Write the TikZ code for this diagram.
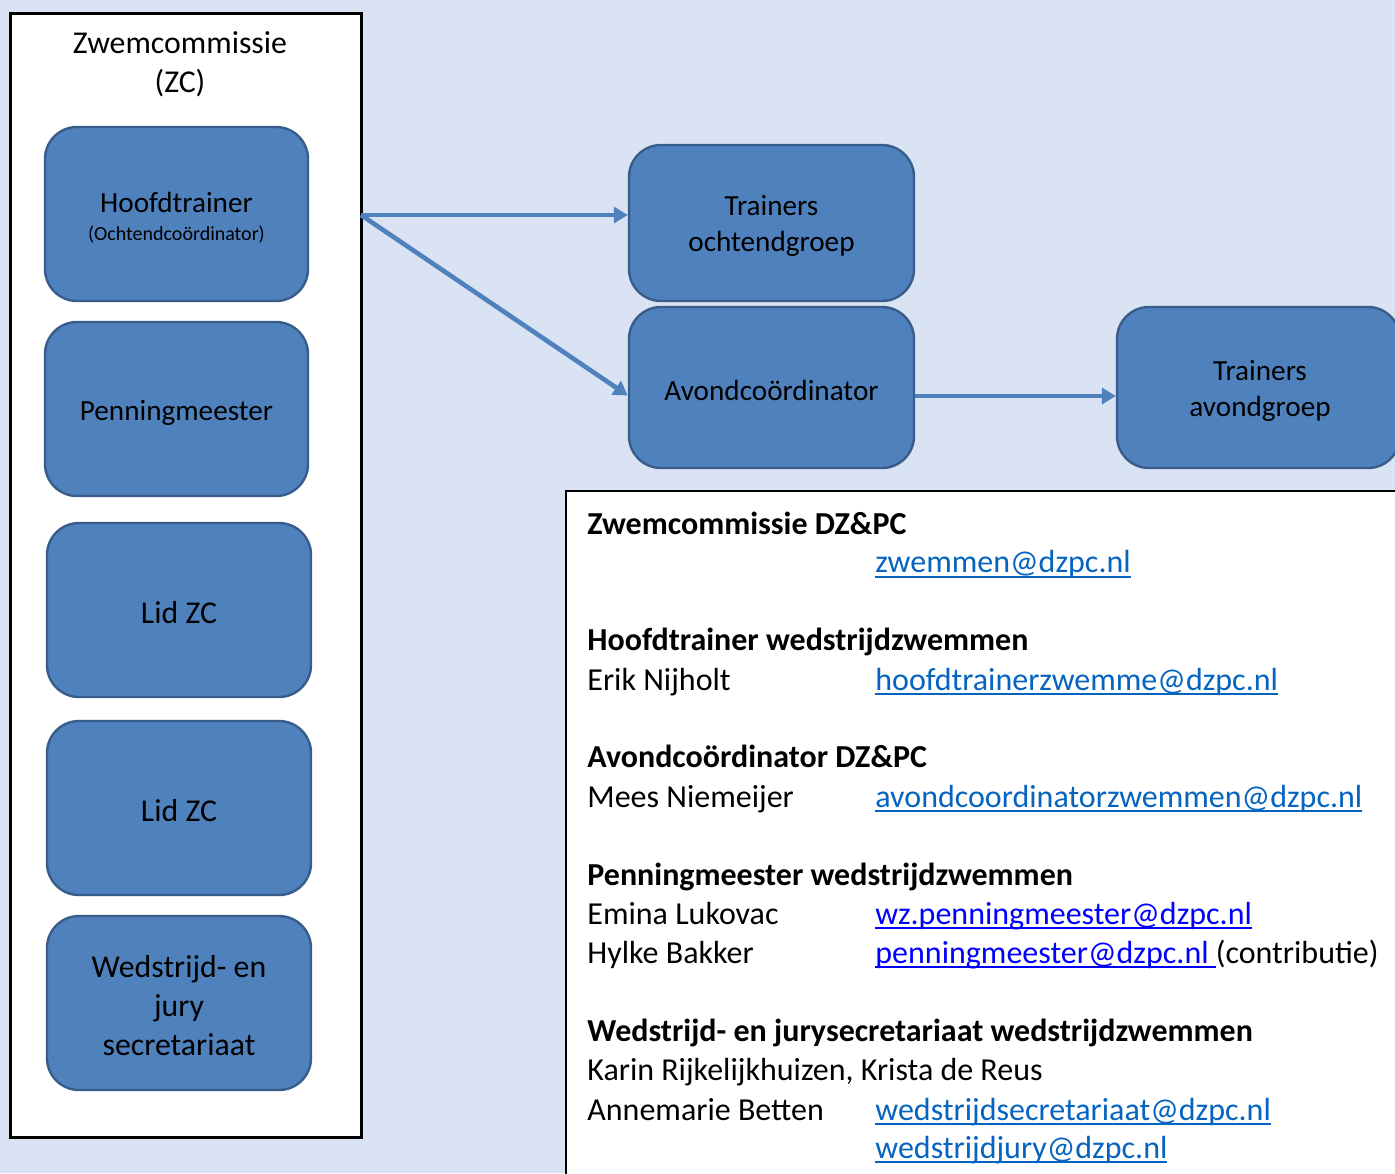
\documentclass[tikz,border=0pt]{standalone}
\usepackage{fontspec}
\setmainfont{Carlito}
\usetikzlibrary{arrows.meta,calc}
\definecolor{bg}{HTML}{DAE3F3}
\definecolor{boxfill}{HTML}{4F81BD}
\definecolor{boxline}{HTML}{385D8A}
\definecolor{linkc}{HTML}{0563C1}
\definecolor{linkb}{HTML}{0000FF}
\newcommand\ulink[2]{{\color{#1}\setbox0\hbox{#2}\rlap{\rule[-0.17em]{\wd0}{0.065em}}\box0}}
\begin{document}
\begin{tikzpicture}[x=0.5pt,y=-0.5pt,
  orgbox/.style={draw=boxline, line width=1.2pt, fill=boxfill, rounded corners=16pt, inner sep=0pt},
  boxtext/.style={inner sep=0pt, align=center, font=\fontsize{14.6}{18}\selectfont},
  bigtext/.style={boxtext, font=\fontsize{15.9}{19.5}\selectfont},
  conn/.style={draw=boxfill, line width=2.3pt, -{Triangle[length=7pt,width=8pt]}},
  info/.style={anchor=base west, inner sep=0pt, font=\fontsize{16}{19.5}\selectfont},
  infohead/.style={info, font=\fontsize{16}{19.5}\selectfont\bfseries}]
\fill[bg] (0,0) rectangle (1395,1173);
\useasboundingbox (0,0) rectangle (1395,1173);
% left frame
\node[draw=black, line width=1.5pt, fill=white, minimum width=175.5pt, minimum height=562pt, inner sep=0pt] (zc) at (185.5,575) {};
\node[align=center, inner sep=0pt, font=\fontsize{15.9}{19.5}\selectfont] (zctitle) at (180,64.5) {Zwemcommissie\\(ZC)};
% info frame
\node[draw=black, line width=1pt, fill=white, minimum width=419.5pt, minimum height=347pt, inner sep=0pt] (infobox) at (985.5,838) {};
% boxes
\node[orgbox, minimum width=131.5pt, minimum height=87pt] (HT) at (176.5,214) {};
\node[orgbox, minimum width=131.5pt, minimum height=87pt] (PM) at (176.5,409) {};
\node[orgbox, minimum width=132pt, minimum height=87pt] (L1) at (179,610) {};
\node[orgbox, minimum width=132pt, minimum height=87pt] (L2) at (179,808) {};
\node[orgbox, minimum width=132pt, minimum height=87pt] (WJ) at (179,1003) {};
\node[orgbox, minimum width=142.5pt, minimum height=78pt] (TO) at (771.5,223) {};
\node[orgbox, minimum width=142.5pt, minimum height=80.5pt] (AC) at (771.5,387.5) {};
\node[orgbox, minimum width=141.5pt, minimum height=80.5pt] (TA) at (1258.5,387.5) {};
% box texts
\node[boxtext] (HTt) at ($(HT.center)+(0,4)$) {Hoofdtrainer\\[-4pt]{\fontsize{10}{12}\selectfont(Ochtendcoördinator)}};
\node[boxtext] (PMt) at ($(PM.center)+(0,3.5)$) {Penningmeester};
\node[bigtext] (L1t) at ($(L1.center)+(0,3)$) {Lid ZC};
\node[bigtext] (L2t) at ($(L2.center)+(0,3)$) {Lid ZC};
\node[bigtext] (WJt) at ($(WJ.center)+(0,3)$) {Wedstrijd- en\\jury\\secretariaat};
\node[boxtext] (TOt) at ($(TO.center)+(0,3)$) {Trainers\\ochtendgroep};
\node[boxtext] (ACt) at ($(AC.center)+(0,2.5)$) {Avondcoördinator};
\node[boxtext] (TAt) at ($(TA.center)+(1.5,3.5)$) {Trainers\\avondgroep};
% connectors
\coordinate (zcout) at (361,215);
\draw[conn] (zcout) -- (zcout -| TO.west);
\draw[conn] (zcout) -- ($(AC.west)+(0,8)$);
\draw[conn] ($(AC.east)+(0,8.5)$) -- ($(TA.west)+(0,8.5)$);
% info text
\node[infohead] (h1) at (587,534.5) {Zwemcommissie DZ\&PC};
\node[info] (m1) at (875,572.5) {\ulink{linkc}{zwemmen@dzpc.nl}};
\node[infohead] (h2) at (587,650.5) {Hoofdtrainer wedstrijdzwemmen};
\node[info] (n2) at (587,690) {Erik Nijholt};
\node[info] (m2) at (875,690) {\ulink{linkc}{hoofdtrainerzwemme@dzpc.nl}};
\node[infohead] (h3) at (587,767.5) {Avondcoördinator DZ\&PC};
\node[info] (n3) at (587,807) {Mees Niemeijer};
\node[info] (m3) at (875,807) {\ulink{linkc}{avondcoordinatorzwemmen@dzpc.nl}};
\node[infohead] (h4) at (587,885) {Penningmeester wedstrijdzwemmen};
\node[info] (n4a) at (587,924) {Emina Lukovac};
\node[info] (m4a) at (875,924) {\ulink{linkb}{wz.penningmeester@dzpc.nl}};
\node[info] (n4b) at (587,963) {Hylke Bakker};
\node[info] (m4b) at (875,963) {\ulink{linkb}{penningmeester@dzpc.nl\ }(contributie)};
\node[infohead] (h5) at (587,1041) {Wedstrijd- en jurysecretariaat wedstrijdzwemmen};
\node[info] (n5a) at (587,1080) {Karin Rijkelijkhuizen, Krista de Reus};
\node[info] (n5b) at (587,1120) {Annemarie Betten};
\node[info] (m5a) at (875,1120) {\ulink{linkc}{wedstrijdsecretariaat@dzpc.nl}};
\node[info] (m5b) at (875,1158) {\ulink{linkc}{wedstrijdjury@dzpc.nl}};
\end{tikzpicture}
\end{document}
